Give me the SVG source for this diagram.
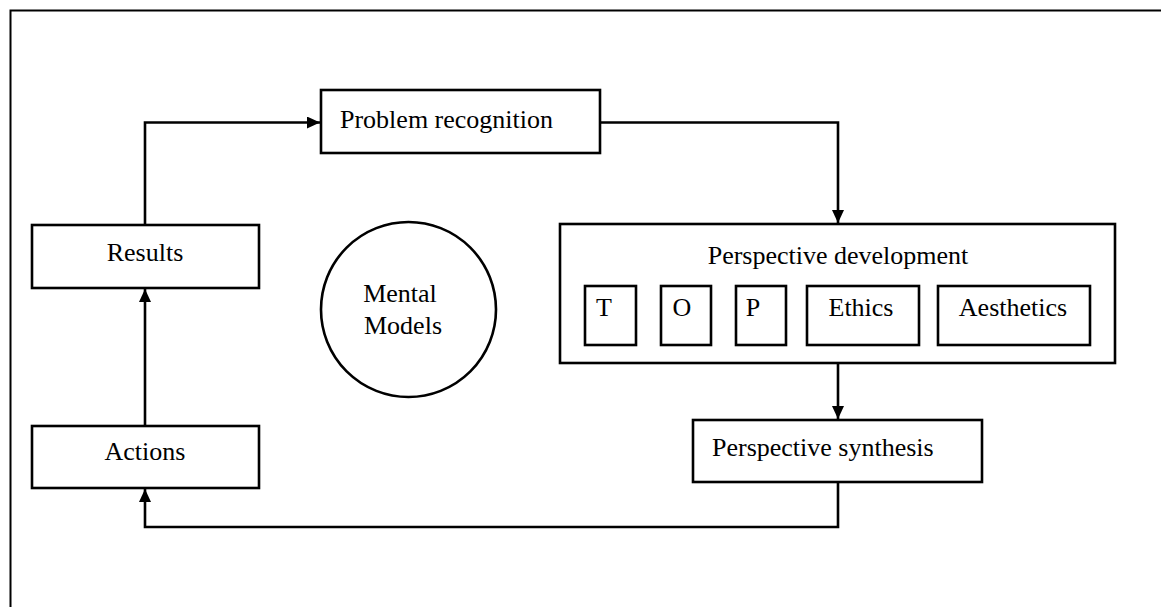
<svg xmlns="http://www.w3.org/2000/svg" width="1161" height="607" viewBox="0 0 1161 607">
<defs>
<marker id="arr" viewBox="0 0 13 12" refX="13" refY="6" markerWidth="13" markerHeight="12" markerUnits="userSpaceOnUse" orient="auto">
<path d="M0,0 L13,6 L0,12 Z" fill="#000"/>
</marker>
<style>
.box{fill:#fff;stroke:#000;stroke-width:2.6}
.lbl{font-family:"Liberation Serif","Times New Roman",serif;font-size:26px;fill:#000}
.mid{text-anchor:middle}
.con{fill:none;stroke:#000;stroke-width:2.6;marker-end:url(#arr)}
</style>
</defs>
<rect width="1161" height="607" fill="#fff"/>
<rect id="frame" x="10.5" y="10.5" width="1200" height="700" fill="none" stroke="#000" stroke-width="2"/>
<g id="connectors">
<path class="con" d="M145,225 V122.5 H320"/>
<path class="con" d="M600,122.5 H838 V223"/>
<path class="con" d="M838,363 V419"/>
<path class="con" d="M838,482 V527 H145 V489"/>
<path class="con" d="M145,426 V289"/>
</g>
<g id="problem-recognition">
<rect class="box" x="321" y="90" width="279" height="63"/>
<text class="lbl" x="340" y="128">Problem recognition</text>
</g>
<g id="perspective-development">
<rect class="box" x="560" y="224" width="555" height="139"/>
<text class="lbl mid" x="838" y="264">Perspective development</text>
<g id="t"><rect class="box" x="585" y="286" width="51" height="59"/><text class="lbl mid" x="604" y="316">T</text></g>
<g id="o"><rect class="box" x="661" y="286" width="50" height="59"/><text class="lbl mid" x="682" y="316">O</text></g>
<g id="p"><rect class="box" x="736" y="286" width="50" height="59"/><text class="lbl mid" x="753" y="316">P</text></g>
<g id="ethics"><rect class="box" x="807" y="286" width="112" height="59"/><text class="lbl mid" x="861" y="316">Ethics</text></g>
<g id="aesthetics"><rect class="box" x="938" y="286" width="152" height="59"/><text class="lbl mid" x="1013" y="316">Aesthetics</text></g>
</g>
<g id="perspective-synthesis">
<rect class="box" x="693" y="420" width="289" height="62"/>
<text class="lbl" x="712" y="456">Perspective synthesis</text>
</g>
<g id="results">
<rect class="box" x="32" y="225" width="227" height="63"/>
<text class="lbl mid" x="145" y="261">Results</text>
</g>
<g id="actions">
<rect class="box" x="32" y="426" width="227" height="62"/>
<text class="lbl mid" x="145" y="460">Actions</text>
</g>
<g id="mental-models">
<circle cx="408.5" cy="309.5" r="87.5" fill="#fff" stroke="#000" stroke-width="2.6"/>
<text class="lbl mid" x="400" y="302">Mental</text>
<text class="lbl mid" x="403" y="334">Models</text>
</g>
</svg>
